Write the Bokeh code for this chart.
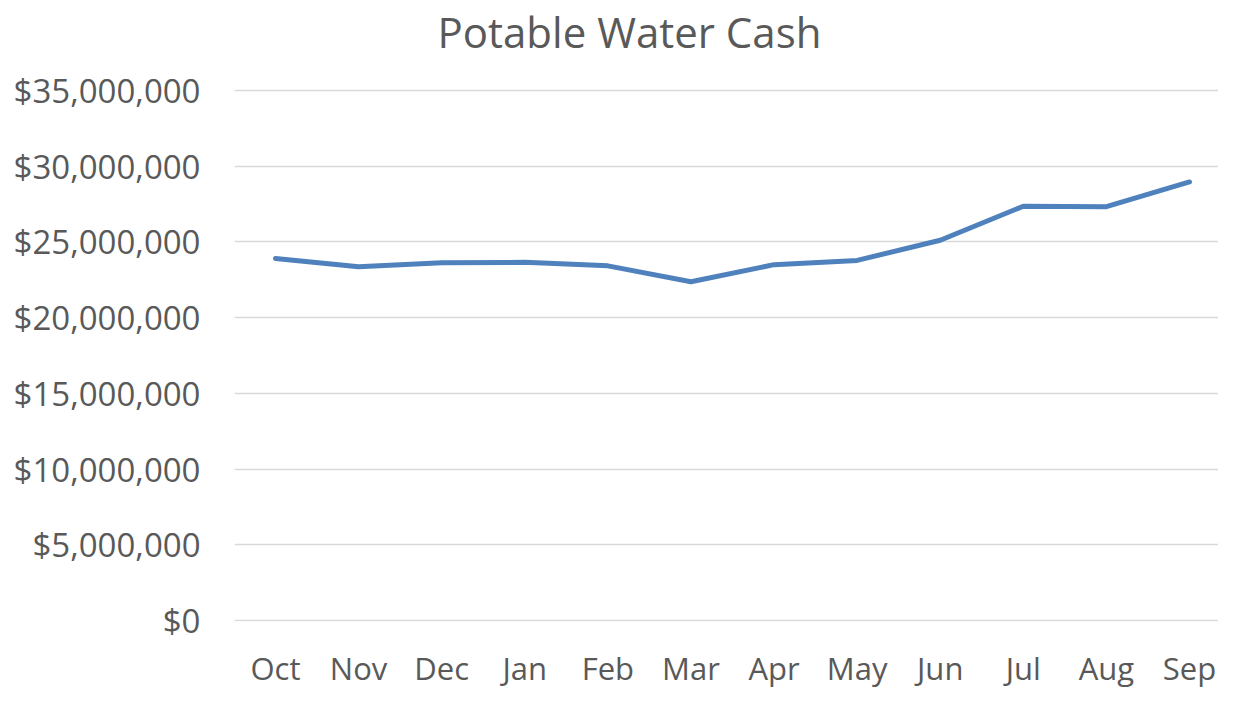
from bokeh.plotting import figure
from bokeh.models import Range1d, FixedTicker, NumeralTickFormatter, Label
from bokeh.embed import file_html
from bokeh.resources import INLINE

title_text = "Potable Water Cash"
months = ["Oct", "Nov", "Dec", "Jan", "Feb", "Mar", "Apr", "May", "Jun", "Jul", "Aug", "Sep"]
cash = [23900000, 23360000, 23630000, 23650000, 23420000, 22370000,
        23500000, 23780000, 25110000, 27360000, 27330000, 28960000]
y_ticks = [0, 5000000, 10000000, 15000000, 20000000, 25000000, 30000000, 35000000]

xs = list(range(len(months)))
y_max = y_ticks[-1]
px = y_max / 530.0  # value units per pixel of the value axis

# frame spans from the very top of the canvas so the title can live inside it
p = figure(width=1218, height=688, frame_width=984, frame_height=621,
           output_backend="svg", toolbar_location=None,
           x_range=Range1d(-0.4934, 11.349), y_range=Range1d(-px, 620 * px),
           min_border_left=234, min_border_right=0, min_border_top=0, min_border_bottom=67)

p.line(xs, cash, line_color="#4f81bd", line_width=5, line_cap="round", line_join="round")

title = Label(x=4.26, y=589 * px, text=title_text,
              text_font="Open Sans", text_font_size="42px", text_color="#595959",
              text_align="center", text_baseline="alphabetic")
p.add_layout(title)

p.outline_line_color = None
p.background_fill_color = "white"
p.border_fill_color = "white"

p.xgrid.grid_line_color = None
p.ygrid.grid_line_color = "#d9d9d9"
p.ygrid.grid_line_width = 1.4

p.yaxis.ticker = FixedTicker(ticks=y_ticks)
p.yaxis.formatter = NumeralTickFormatter(format="$0,0")
p.xaxis.ticker = FixedTicker(ticks=xs)
p.xaxis.major_label_overrides = {i: m for i, m in enumerate(months)}

for ax in (p.xaxis[0], p.yaxis[0]):
    ax.axis_line_color = None
    ax.major_tick_line_color = None
    ax.minor_tick_line_color = None
    ax.major_tick_out = 0
    ax.major_tick_in = 0
    ax.minor_tick_out = 0
    ax.minor_tick_in = 0
    ax.major_label_text_font = "Open Sans"
    ax.major_label_text_color = "#595959"

p.yaxis.major_label_text_font_size = "33px"
p.xaxis.major_label_text_font_size = "31px"
p.yaxis.major_label_standoff = 34
p.xaxis.major_label_standoff = 25

open("out.html", "w").write(file_html(p, INLINE))
